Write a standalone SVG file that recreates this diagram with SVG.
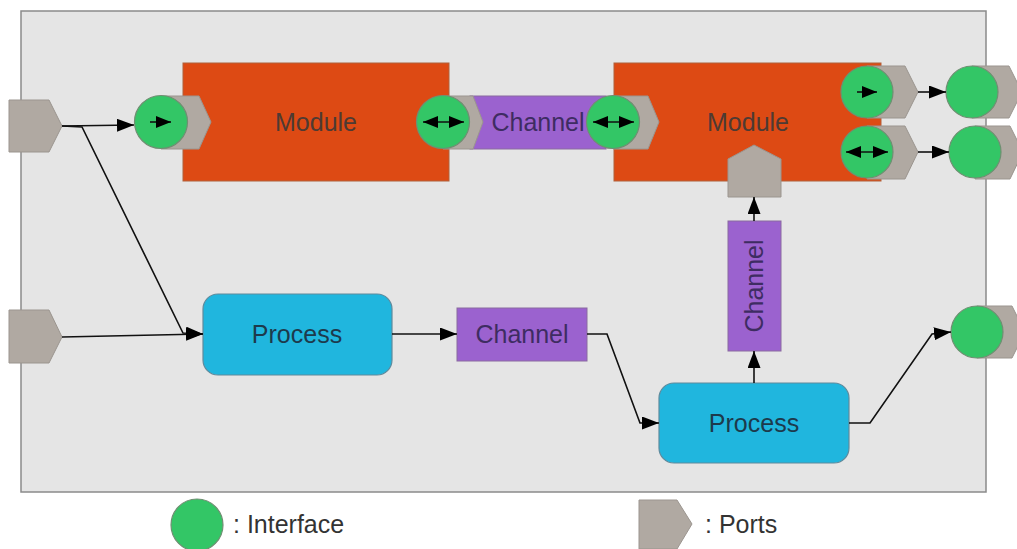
<svg xmlns="http://www.w3.org/2000/svg" width="1017" height="549" viewBox="0 0 1017 549">
<style>
.bg{fill:#e5e5e5;stroke:#8a8a8a;stroke-width:1.5}
.mod{fill:#dd4a14;stroke:#b0603a;stroke-width:1}
.chan{fill:#9b62cf;stroke:#8a6aa0;stroke-width:1}
.proc{fill:#20b6de;stroke:#5f8a9c;stroke-width:1.2}
.port{fill:#b0a9a2;stroke:#9b958f;stroke-width:1}
.ifc{fill:#33c666;stroke:#6f8f72;stroke-width:1.2}
.t{font-family:"Liberation Sans",Arial,sans-serif;font-size:25px;text-anchor:middle;dominant-baseline:central}
.tm{fill:#4e3a33}
.tc{fill:#3e2c62}
.tp{fill:#1d3a4c}
.lg{font-family:"Liberation Sans",Arial,sans-serif;font-size:25px;fill:#333}
.conn{fill:none;stroke:#111;stroke-width:1.6}
.ia{stroke:#111;stroke-width:1.6}
</style>
<defs>
<marker id="ah" markerUnits="userSpaceOnUse" markerWidth="17" markerHeight="13" viewBox="0 0 17 13" refX="17" refY="6.5" orient="auto"><path d="M0,0 L17,6.5 L0,13 z" fill="#000"/></marker>
<marker id="ai" markerUnits="userSpaceOnUse" markerWidth="15" markerHeight="12" viewBox="0 0 15 12" refX="15" refY="6" orient="auto-start-reverse"><path d="M0,0 L15,6 L0,12 z" fill="#000"/></marker>
</defs>

<rect class="bg" x="21" y="11" width="965" height="481"/>

<g id="module1">
<rect class="mod" x="183" y="63" width="266" height="118"/>
<text class="t tm" x="316" y="122">Module</text>
</g>
<g id="module2">
<rect class="mod" x="614" y="63" width="267" height="118"/>
<text class="t tm" x="748" y="122">Module</text>
</g>
<g id="channel-top">
<rect class="chan" x="470" y="96" width="136" height="53"/>
<text class="t tc" x="538" y="122">Channel</text>
</g>
<g id="channel-mid">
<rect class="chan" x="457" y="308" width="130" height="53"/>
<text class="t tc" x="522" y="334">Channel</text>
</g>
<g id="channel-vert">
<rect class="chan" x="728" y="221" width="53" height="130"/>
<text class="t tc" x="754" y="286" transform="rotate(-90 754 286)">Channel</text>
</g>
<g id="process1">
<rect class="proc" x="203" y="294" width="189" height="81" rx="15"/>
<text class="t tp" x="297" y="334">Process</text>
</g>
<g id="process2">
<rect class="proc" x="659" y="383" width="190" height="80" rx="15"/>
<text class="t tp" x="754" y="423">Process</text>
</g>

<g id="port-in1"><path class="port" d="M9,100 H49 L62,126 L49,152 H9 Z"/></g>
<g id="port-in2"><path class="port" d="M9,310 H49 L62,337 L49,363 H9 Z"/></g>

<g id="m1-in">
<path class="port" d="M161,96 H199 L211,122 L199,149 H161 Z"/>
<circle class="ifc" cx="161" cy="122" r="26.5"/>
<line class="ia" x1="150" y1="122" x2="171" y2="122" marker-end="url(#ai)"/>
</g>
<g id="m1-out">
<path class="port" d="M443,96 H473 L483,122 L473,149 H443 Z"/>
<circle class="ifc" cx="443" cy="122" r="26.5"/>
<line class="ia" x1="423" y1="122" x2="464" y2="122" marker-start="url(#ai)" marker-end="url(#ai)"/>
</g>
<g id="m2-in">
<path class="port" d="M613,96 H648 L659,122 L648,149 H613 Z"/>
<circle class="ifc" cx="613" cy="122" r="26.5"/>
<line class="ia" x1="593" y1="122" x2="634" y2="122" marker-start="url(#ai)" marker-end="url(#ai)"/>
</g>
<g id="m2-out1">
<path class="port" d="M867,66 H905 L918,92 L905,118 H867 Z"/>
<circle class="ifc" cx="867" cy="92" r="26"/>
<line class="ia" x1="857" y1="92" x2="877" y2="92" marker-end="url(#ai)"/>
</g>
<g id="m2-out2">
<path class="port" d="M867,126 H905 L918,152 L905,179 H867 Z"/>
<circle class="ifc" cx="867" cy="152" r="26"/>
<line class="ia" x1="846" y1="152" x2="888" y2="152" marker-start="url(#ai)" marker-end="url(#ai)"/>
</g>
<g id="m2-port-bottom"><path class="port" d="M728,197 V159 L754,145 L781,159 V197 Z"/></g>

<g id="out1">
<path class="port" d="M972,66 H1009 L1022,92 L1009,118 H972 Z"/>
<circle class="ifc" cx="972" cy="92" r="26"/>
</g>
<g id="out2">
<path class="port" d="M975,126 H1010 L1023,152 L1010,179 H975 Z"/>
<circle class="ifc" cx="975" cy="152" r="26"/>
</g>
<g id="out3">
<path class="port" d="M977,306 H1012 L1025,332 L1012,358 H977 Z"/>
<circle class="ifc" cx="977" cy="332" r="26"/>
</g>

<g id="connectors">
<line class="conn" x1="62" y1="126" x2="134" y2="125" marker-end="url(#ah)"/>
<polyline class="conn" points="62,126 82,127 183,333 203,334" marker-end="url(#ah)"/>
<line class="conn" x1="62" y1="337" x2="203" y2="334" marker-end="url(#ah)"/>
<line class="conn" x1="392" y1="334" x2="457" y2="334" marker-end="url(#ah)"/>
<polyline class="conn" points="587,334 607,334 640,423 659,423" marker-end="url(#ah)"/>
<line class="conn" x1="754" y1="383" x2="754" y2="351" marker-end="url(#ah)"/>
<line class="conn" x1="754" y1="221" x2="754" y2="197" marker-end="url(#ah)"/>
<polyline class="conn" points="849,423 870,423 932,334 951,332" marker-end="url(#ah)"/>
<line class="conn" x1="918" y1="92" x2="946" y2="92" marker-end="url(#ah)"/>
<line class="conn" x1="918" y1="152" x2="949" y2="152" marker-end="url(#ah)"/>
</g>

<g id="legend">
<circle class="ifc" cx="197" cy="525" r="26"/>
<text class="lg" x="233" y="533">: Interface</text>
<path class="port" d="M639,500 H677 L692,524 L677,549 H639 Z"/>
<text class="lg" x="705" y="533">: Ports</text>
</g>
</svg>
